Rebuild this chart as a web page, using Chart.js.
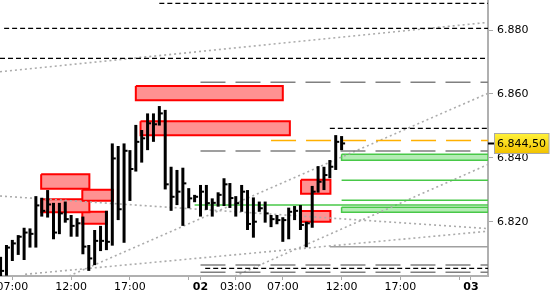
<!DOCTYPE html>
<html><head><meta charset="utf-8">
<script src="https://cdn.jsdelivr.net/npm/chart.js@4.4.1/dist/chart.umd.min.js"></script>
<style>html,body{margin:0;padding:0;background:#fff;overflow:hidden}canvas{display:block}</style>
</head><body>
<canvas id="c" width="550" height="300"></canvas>
<script>
// ---------- DATA ----------
// 30-minute OHLC bars (Day 1 and Day 2); session clock skips 23:00-24:00
const barTimes = [
  'D1 06:00','D1 06:30','D1 07:00','D1 07:30','D1 08:00','D1 08:30','D1 09:00','D1 09:30',
  'D1 10:00','D1 10:30','D1 11:00','D1 11:30','D1 12:00','D1 12:30','D1 13:00','D1 13:30',
  'D1 14:00','D1 14:30','D1 15:00','D1 15:30','D1 16:00','D1 16:30','D1 17:00','D1 17:30',
  'D1 18:00','D1 18:30','D1 19:00','D1 19:30','D1 20:00','D1 20:30','D1 21:00','D1 21:30',
  'D1 22:00','D1 22:30',
  'D2 00:00','D2 00:30','D2 01:00','D2 01:30','D2 02:00','D2 02:30','D2 03:00','D2 03:30',
  'D2 04:00','D2 04:30','D2 05:00','D2 05:30','D2 06:00','D2 06:30','D2 07:00','D2 07:30',
  'D2 08:00','D2 08:30','D2 09:00','D2 09:30','D2 10:00','D2 10:30','D2 11:00','D2 11:30',
  'D2 12:00'
];
const highs = [
  6.8090,6.8127,6.8143,6.8158,6.8181,6.8179,6.8280,6.8275,
  6.8299,6.8259,6.8259,6.8263,6.8221,6.8211,6.8216,6.8127,
  6.8174,6.8187,6.8234,6.8445,6.8437,6.8445,6.8424,6.8503,
  6.8487,6.8539,6.8539,6.8562,6.8550,6.8372,6.8362,6.8369,
  6.8305,6.8284,
  6.8315,6.8315,6.8273,6.8292,6.8336,6.8321,6.8280,6.8315,
  6.8299,6.8276,6.8263,6.8263,6.8221,6.8221,6.8214,6.8244,
  6.8249,6.8252,6.8200,6.8312,6.8374,6.8372,6.8393,6.8471,
  6.8468
];
const lows = [
  6.8025,6.8031,6.8077,6.8096,6.8080,6.8119,6.8119,6.8216,
  6.8213,6.8145,6.8161,6.8197,6.8153,6.8153,6.8098,6.8046,
  6.8064,6.8108,6.8111,6.8125,6.8205,6.8134,6.8265,6.8357,
  6.8385,6.8424,6.8450,6.8501,6.8301,6.8234,6.8252,6.8187,
  6.8242,6.8261,
  6.8216,6.8237,6.8216,6.8247,6.8249,6.8243,6.8216,6.8231,
  6.8174,6.8150,6.8231,6.8197,6.8183,6.8192,6.8137,6.8145,
  6.8205,6.8174,6.8120,6.8181,6.8291,6.8299,6.8336,6.8362,
  6.8424
];
const closes = [
  6.8046,6.8119,6.8132,6.8153,6.8166,6.8162,6.8251,6.8234,
  6.8254,6.8166,6.8226,6.8208,6.8187,6.8195,6.8122,6.8085,
  6.8140,6.8140,6.8137,6.8398,6.8239,6.8422,6.8365,6.8450,
  6.8461,6.8508,6.8505,6.8539,6.8317,6.8278,6.8294,6.8320,
  6.8273,6.8278,
  6.8294,6.8258,6.8259,6.8284,6.8317,6.8274,6.8258,6.8294,
  6.8193,6.8200,6.8242,6.8226,6.8208,6.8205,6.8205,6.8231,
  6.8234,6.8190,6.8195,6.8294,6.8325,6.8346,6.8372,6.8450,
  6.8445
];

// axes
const xRange = ['D1 05:57', 'D3 01:27'];
const yRange = [6.8030, 6.8894];
const xTickTimes  = ['D1 07:00','D1 12:00','D1 17:00','D1 22:00','D2 00:00','D2 03:00','D2 07:00','D2 12:00','D2 17:00','D2 22:00','D3 00:00'];
const xTickLabels = ['07:00','12:00','17:00','','02','03:00','07:00','12:00','17:00','','03'];
const yTickValues = [6.820, 6.840, 6.860, 6.880];

// supply zones (red)
const redStarts  = ['D1 17:30','D1 17:54','D1 09:27','D1 12:57','D1 09:27','D1 12:57','D2 08:33','D2 08:33'];
const redEnds    = ['D2 07:00','D2 07:36','D1 13:33','D1 15:33','D1 13:33','D1 15:03','D2 11:03','D2 11:03'];
const redTops    = [6.86247, 6.85142, 6.83484, 6.83002, 6.82701, 6.82313, 6.83315, 6.82335];
const redBottoms = [6.85800, 6.84704, 6.83033, 6.82658, 6.82294, 6.81937, 6.82877, 6.82000];

// green zones / lines
const greenZoneStarts  = ['D2 12:00','D2 12:00'];
const greenZoneTops    = [6.84109, 6.82451];
const greenZoneBottoms = [6.83922, 6.82294];
const greenLineStarts  = ['D2 12:00','D2 12:00','D1 22:30'];
const greenLineLevels  = [6.83296, 6.82670, 6.82522];

// horizontal levels
const blackDashStarts = ['D1 19:30','D1 06:18','D1 05:57','D2 11:00','D2 00:24'];
const blackDashLevels = [6.88836, 6.88053, 6.87114, 6.84923, 6.80541];
const grayDashStarts  = ['D2 00:00','D2 00:00','D2 00:00','D2 00:00'];
const grayDashLevels  = [6.86363, 6.84213, 6.80644, 6.80416];
const graySolidStarts = ['D2 11:00'];
const graySolidLevels = [6.81217];
const orangeStarts    = ['D2 06:00'];
const orangeLevels    = [6.84541];

// dotted trend lines
const trendStartTimes  = ['D1 05:57','D1 11:49','D1 05:57','D1 08:05','D2 02:56'];
const trendStartPrices = [6.86695, 6.80300, 6.82804, 6.80353, 6.80300];
const trendEndTimes    = ['D3 01:27','D3 01:27','D3 01:27','D3 01:27','D3 01:27'];
const trendEndPrices   = [6.88241, 6.86019, 6.81784, 6.81702, 6.83790];

// ---------- HELPERS ----------
const SESSION_HOURS = 23;
function toT(s) {
  const parts = s.split(' ');
  const day = Number(parts[0].slice(1));
  const hm = parts[1].split(':').map(Number);
  return (day - 1) * SESSION_HOURS + hm[0] + hm[1] / 60;
}
const X_MIN = toT(xRange[0]), X_MAX = toT(xRange[1]);
const FONT = 'DejaVu Sans';

const datasets = [];
function rectPts(t1, t2, top, bot) {
  return [{x:t1,y:top},{x:t2,y:top},{x:t2,y:bot},{x:t1,y:bot},{x:t1,y:top}];
}
function addRect(t1, t2, top, bot, fillC, lineC, w, order) {
  datasets.push({type:'line', data: rectPts(t1, t2, top, bot), fill:'shape',
    backgroundColor: fillC, borderColor: lineC, borderWidth: w, pointRadius: 0,
    tension: 0, order: order, clip: 0, borderJoinStyle: 'miter'});
}
function addLine(pts, color, w, dash, order) {
  datasets.push({type:'line', data: pts, fill:false, borderColor: color, borderWidth: w,
    borderDash: dash, pointRadius: 0, tension: 0, order: order, clip: 0});
}
function addLevel(start, level, color, w, dash, order) {
  addLine([{x: toT(start), y: level}, {x: X_MAX, y: level}], color, w, dash, order);
}

redStarts.forEach((s, i) => addRect(toT(s), toT(redEnds[i]), redTops[i], redBottoms[i], '#ff9191', '#ff0000', 2, 30));
greenZoneStarts.forEach((s, i) => addRect(toT(s), X_MAX, greenZoneTops[i], greenZoneBottoms[i], '#b4ecb4', '#48c848', 1.5, 30));
greenLineStarts.forEach((s, i) => addLevel(s, greenLineLevels[i], '#48c848', 1.5, [], 20));
blackDashStarts.forEach((s, i) => addLevel(s, blackDashLevels[i], '#000000', 1.2, [5, 3], 20));
grayDashStarts.forEach((s, i) => addLevel(s, grayDashLevels[i], '#808080', 1.5, [25, 10], 20));
graySolidStarts.forEach((s, i) => addLevel(s, graySolidLevels[i], '#a0a0a0', 1.5, [], 20));
orangeStarts.forEach((s, i) => addLevel(s, orangeLevels[i], '#ffb000', 1.5, [25, 10], 20));
trendStartTimes.forEach((s, i) => addLine(
  [{x: toT(s), y: trendStartPrices[i]}, {x: toT(trendEndTimes[i]), y: trendEndPrices[i]}],
  '#ababab', 1.6, [2, 3], 25));

// OHLC bars (high-low) and close ticks
datasets.push({type:'bar', data: barTimes.map((s, i) => ({x: toT(s), y: [lows[i], highs[i]]})),
  backgroundColor:'#000', borderWidth:0, barThickness:3, inflateAmount:0, order:1, clip: 0});
datasets.push({type:'line', data: barTimes.map((s, i) => ({x: toT(s), y: closes[i]})),
  showLine:false, pointStyle:'dash', pointRadius:3.5, pointBorderWidth:2,
  pointBorderColor:'#000', pointBackgroundColor:'#000', order:0, clip: 0});

// price box plugin (last close)
const priceBox = {
  id: 'priceBox',
  afterDraw(chart) {
    const ctx = chart.ctx, ca = chart.chartArea, ys = chart.scales.y;
    const v = closes[closes.length - 1];
    const y = Math.round(ys.getPixelForValue(v)) + 0.5;
    const s = v.toFixed(5);
    const txt = s.slice(0, 5) + ',' + s.slice(5);
    ctx.save();
    ctx.strokeStyle = '#000'; ctx.lineWidth = 2;
    ctx.beginPath(); ctx.moveTo(ca.right, y); ctx.lineTo(ca.right + 7, y); ctx.stroke();
    const bx = ca.right + 6.5, bw = chart.width - bx - 1, bh = 20, by = y - 10;
    const g = ctx.createLinearGradient(0, by, 0, by + bh);
    g.addColorStop(0, '#fff23a'); g.addColorStop(1, '#f2c200');
    ctx.fillStyle = g; ctx.fillRect(bx, by, bw, bh);
    ctx.strokeStyle = '#a8a8a8'; ctx.lineWidth = 1; ctx.strokeRect(bx, by, bw, bh);
    ctx.fillStyle = '#000'; ctx.font = '11px "' + FONT + '"';
    ctx.textBaseline = 'middle'; ctx.textAlign = 'left';
    ctx.fillText(txt, bx + 2.5, y + 0.5);
    ctx.restore();
  }
};

new Chart(document.getElementById('c'), {
  type: 'line',
  data: { datasets },
  plugins: [priceBox],
  options: {
    responsive: false, animation: false, devicePixelRatio: 1, events: [],
    layout: { padding: 0, autoPadding: false },
    plugins: { legend: {display:false}, tooltip: {enabled:false} },
    scales: {
      x: {
        type: 'linear', position: 'bottom', min: X_MIN, max: X_MAX, offset: false,
        grid: { drawOnChartArea: false, drawTicks: true, tickLength: 4, color: '#a8a8a8', offset: false },
        border: { display: true, color: '#b0b0b0', width: 2 },
        afterBuildTicks: (sc) => { sc.ticks = xTickTimes.map(s => ({value: toT(s)})); },
        afterFit: (sc) => { sc.height = 24; sc.paddingLeft = 0; sc.paddingRight = 0; },
        ticks: {
          autoSkip: false, maxRotation: 0, minRotation: 0, padding: 1, color: '#000',
          callback: (v, i) => xTickLabels[i],
          font: (ctx) => ({ family: FONT, size: 11,
            weight: (xTickLabels[ctx.index] || ':').indexOf(':') >= 0 ? 'normal' : 'bold' })
        }
      },
      y: {
        type: 'linear', position: 'right', min: yRange[0], max: yRange[1],
        grid: { drawOnChartArea: false, drawTicks: true, tickLength: 5, color: '#a8a8a8' },
        border: { display: true, color: '#b0b0b0', width: 2 },
        afterBuildTicks: (sc) => { sc.ticks = yTickValues.map(v => ({value: v})); },
        afterFit: (sc) => { sc.width = 62; sc.paddingTop = 0; sc.paddingBottom = 0; },
        ticks: { padding: 4, color: '#000', font: { family: FONT, size: 11 },
          callback: (v) => Number(v).toFixed(3) }
      }
    }
  }
});
</script>
</body></html>
